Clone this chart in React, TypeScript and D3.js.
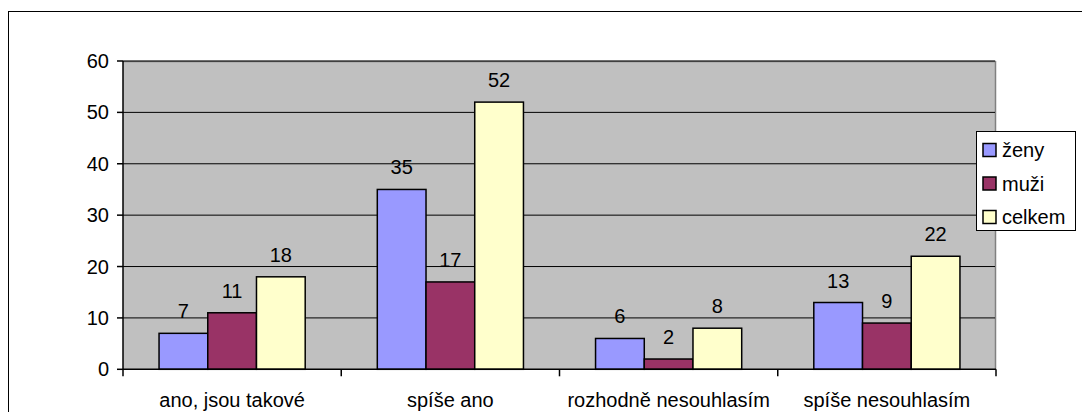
import React from "react";
import * as d3 from "d3";

const categories = ["ano, jsou takové", "spíše ano", "rozhodně nesouhlasím", "spíše nesouhlasím"];
const seriesNames = ["ženy", "muži", "celkem"];
const zeny = [7, 35, 6, 13];
const muzi = [11, 17, 2, 9];
const celkem = [18, 52, 8, 22];
const yTicks = [0, 10, 20, 30, 40, 50, 60];
const colors = ["#9999FF", "#993366", "#FFFFCC"];

export default function App() {
  const W = 1082, H = 412;
  const left = 123, right = 996, top = 61, bottom = 369.3;
  const font = "'Liberation Sans', Arial, sans-serif";
  const fs = 20;
  const series = [zeny, muzi, celkem];

  const x = d3.scaleBand<string>().domain(categories).range([left, right]).paddingInner(0).paddingOuter(0);
  const bw = x.bandwidth();
  const inner = d3.scaleBand<number>().domain([0, 1, 2]).range([0, bw]).paddingInner(0).paddingOuter(0.74);
  const y = d3.scaleLinear().domain([0, 60]).range([bottom, top]);

  return (
    <div style={{ position: "fixed", left: 0, top: 0, width: W, height: H, background: "#fff" }}>
      <svg width={W} height={H} style={{ display: "block" }} fontFamily={font}>
        <rect x={8.5} y={11.5} width={1100} height={420} fill="#fff" stroke="#000" strokeWidth={1} />
        <rect x={left} y={top} width={right - left} height={bottom - top} fill="#C0C0C0" />
        <line x1={left} x2={right} y1={top + 0.5} y2={top + 0.5} stroke="#808080" strokeWidth={1.5} />
        <line x1={right - 0.5} x2={right - 0.5} y1={top} y2={bottom} stroke="#808080" strokeWidth={1.5} />
        {yTicks.filter(t => t > 0).map(t => (
          <line key={t} x1={left} x2={right - 1} y1={y(t)} y2={y(t)} stroke="#000" strokeWidth={1} />
        ))}
        {categories.map((c, ci) =>
          series.map((s, si) => {
            const bx = (x(c) as number) + (inner(si) as number);
            const v = s[ci];
            return (
              <g key={c + si}>
                <rect x={bx} y={y(v)} width={inner.bandwidth()} height={bottom - y(v)} fill={colors[si]} stroke="#000" strokeWidth={1.5} />
                <text x={bx + inner.bandwidth() / 2} y={y(v) - 15} textAnchor="middle" fontSize={fs} fill="#000">{v}</text>
              </g>
            );
          })
        )}
        <line x1={left} x2={left} y1={top} y2={bottom} stroke="#000" strokeWidth={1.5} />
        <line x1={left} x2={right} y1={bottom} y2={bottom} stroke="#000" strokeWidth={1.5} />
        {yTicks.map(t => (
          <g key={t}>
            <line x1={left - 6} x2={left} y1={y(t)} y2={y(t)} stroke="#000" strokeWidth={1.5} />
            <text x={left - 14} y={y(t) + 7} textAnchor="end" fontSize={fs} fill="#000">{t}</text>
          </g>
        ))}
        {[...categories.map(c => x(c) as number), right].map((tx, i) => (
          <line key={i} x1={tx} x2={tx} y1={bottom} y2={bottom + 7} stroke="#000" strokeWidth={1.5} />
        ))}
        {categories.map(c => (
          <text key={c} x={(x(c) as number) + bw / 2} y={407} textAnchor="middle" fontSize={fs} fill="#000">{c}</text>
        ))}
        <rect x={976.5} y={131.5} width={99} height={99} fill="#fff" stroke="#000" strokeWidth={1} />
        {seriesNames.map((n, i) => (
          <g key={n}>
            <rect x={983} y={143.5 + i * 33.5} width={13} height={13} fill={colors[i]} stroke="#000" strokeWidth={1.5} />
            <text x={1002} y={157 + i * 33.5} fontSize={fs} fill="#000">{n}</text>
          </g>
        ))}
      </svg>
    </div>
  );
}
